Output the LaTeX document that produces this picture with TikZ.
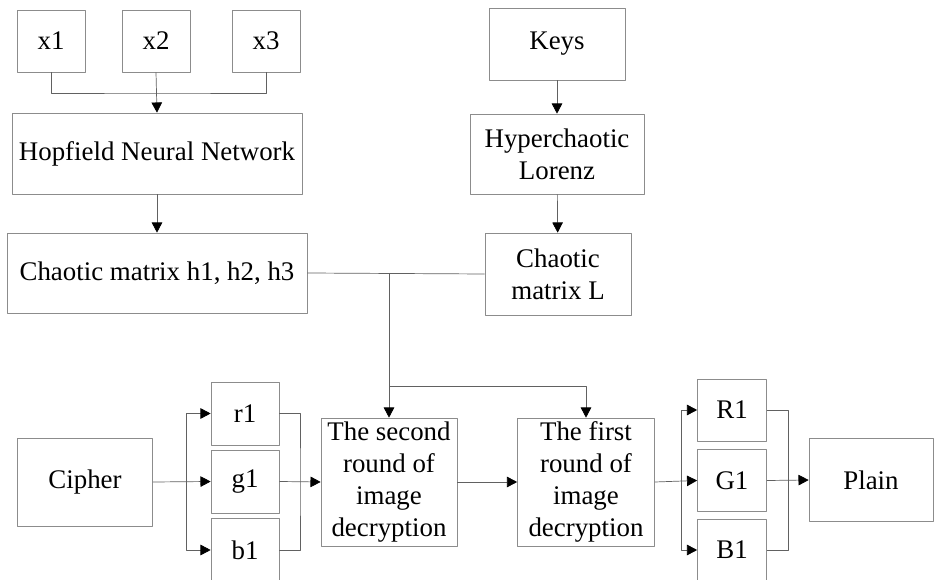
\documentclass[tikz,border=0pt]{standalone}
\usepackage{fontspec}
\setmainfont{Liberation Serif}
\usetikzlibrary{arrows.meta}
\tikzset{
  blk/.style={draw=black!45, align=center, inner sep=1pt,
    font=\fontsize{15.3}{18.2}\selectfont},
  wire/.style={draw=black!62},
  flow/.style={draw=black!62, -{Triangle[length=5.8pt,width=6pt,color=black]}}
}
\begin{document}
\begin{tikzpicture}[x=0.02cm, y=-0.02cm, line join=round]
      \clip (0,0) rectangle (936,580);
      % top left: inputs
      \node[blk, minimum width=1.36cm, minimum height=1.24cm] (x1) at (51,41) {x1};
      \node[blk, minimum width=1.36cm, minimum height=1.24cm] (x2) at (156,41) {x2};
      \node[blk, minimum width=1.36cm, minimum height=1.24cm] (x3) at (266,41) {x3};
      \node[blk, minimum width=5.8cm, minimum height=1.62cm] (hop) at (157,153.5) {Hopfield Neural Network};
      \node[blk, minimum width=6cm, minimum height=1.6cm] (chh) at (157,273) {Chaotic matrix h1, h2, h3};
      % top right
      \node[blk, minimum width=2.72cm, minimum height=1.44cm] (keys) at (557,44) {Keys};
      \node[blk, minimum width=3.48cm, minimum height=1.6cm] (lor) at (557,154) {Hyperchaotic\\Lorenz};
      \node[blk, minimum width=2.92cm, minimum height=1.64cm] (chl) at (558,274) {Chaotic\\matrix L};
      % bottom row
      \node[blk, minimum width=2.7cm, minimum height=1.76cm] (cipher) at (85,482) {Cipher};
      \node[blk, minimum width=1.36cm, minimum height=1.26cm] (r1) at (245,413.5) {r1};
      \node[blk, minimum width=1.36cm, minimum height=1.26cm] (g1) at (245,481.5) {g1};
      \node[blk, minimum width=1.36cm, minimum height=1.26cm] (b1) at (245,550) {b1};
      \node[blk, minimum width=2.72cm, minimum height=2.56cm] (sec) at (389,482) {The second\\round of\\image\\decryption};
      \node[blk, minimum width=2.74cm, minimum height=2.56cm] (fir) at (586,482) {The first\\round of\\image\\decryption};
      \node[blk, minimum width=1.38cm, minimum height=1.24cm] (R1) at (732,410) {R1};
      \node[blk, minimum width=1.38cm, minimum height=1.24cm] (G1) at (732,480.5) {G1};
      \node[blk, minimum width=1.38cm, minimum height=1.24cm] (B1) at (732,550) {B1};
      \node[blk, minimum width=2.48cm, minimum height=1.66cm] (plain) at (871,480) {Plain};
      % junctions
      \coordinate (xb) at (156,93);
      \coordinate (mj) at (389,273);
      \coordinate (mb) at (389,386);
      \coordinate (lb) at (186,482);
      \coordinate (rb) at (300,482);
      \coordinate (Lb) at (681,480.5);
      \coordinate (Rb) at (788,480.5);
      % connectors
      \draw[wire] (x1.south) |- (xb) -| (x3.south);
      \draw[flow] (x2.south) -- (hop.north);
      \draw[flow] (hop) -- (chh);
      \draw[flow] (keys) -- (lor);
      \draw[flow] (lor) -- (chl);
      \draw[wire] (chh.east) -- (chl.west);
      \draw[flow] (mj) -- (sec.north);
      \draw[flow] (mb) -| (fir.north);
      \draw[flow] (cipher.east) -- (g1.west);
      \draw[flow] (lb) |- (r1.west);
      \draw[flow] (lb) |- (b1.west);
      \draw[wire] (r1.east) -| (rb) |- (b1.east);
      \draw[flow] (g1.east) -- (sec.west);
      \draw[flow] (sec) -- (fir);
      \draw[flow] (fir.east) -- (G1.west);
      \draw[flow] (Lb) |- (R1.west);
      \draw[flow] (Lb) |- (B1.west);
      \draw[wire] (R1.east) -| (Rb) |- (B1.east);
      \draw[flow] (G1.east) -- (plain.west);
\end{tikzpicture}
\end{document}
